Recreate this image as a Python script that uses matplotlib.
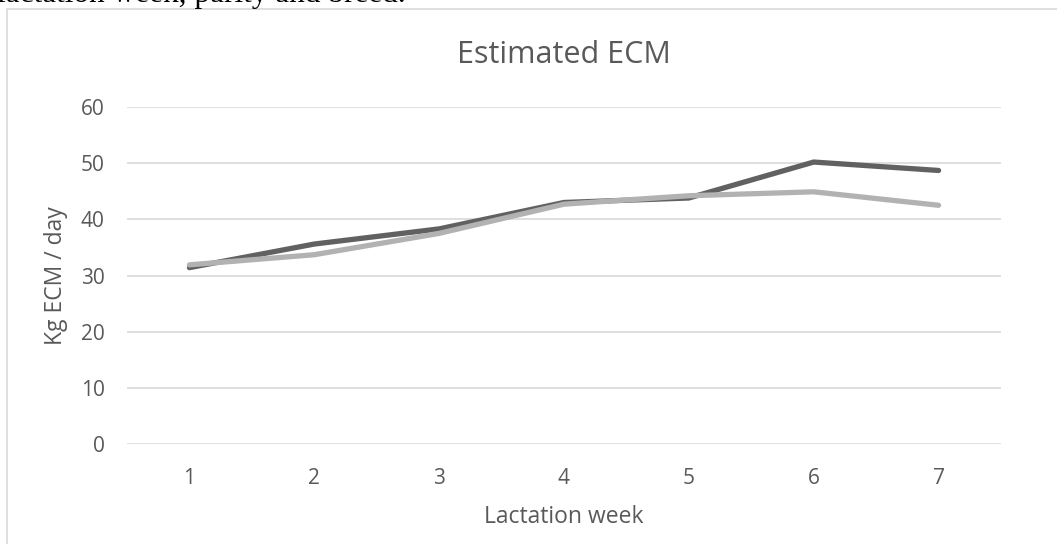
import matplotlib
matplotlib.use('Agg')
import matplotlib.pyplot as plt
from matplotlib.patches import Rectangle

# 数据
weeks = [1, 2, 3, 4, 5, 6, 7]
ecm_dark = [31.4, 35.6, 38.3, 43.0, 43.8, 50.2, 48.7]
ecm_light = [31.9, 33.7, 37.5, 42.7, 44.2, 44.9, 42.5]
y_ticks = [0, 10, 20, 30, 40, 50, 60]

plt.rcParams['font.family'] = ['Open Sans', 'DejaVu Sans']

W, H = 1057, 544
fig = plt.figure(figsize=(W / 100, H / 100), dpi=100)

# 被截掉的正文一行
fig.text(-3 / W, 1 - 2 / H, 'lactation week, parity and breed.', family='Liberation Serif',
         fontsize=22.5, va='baseline', ha='left', color='black')

# 图表区边框
fig.patches.append(Rectangle((7 / W, -0.1), 1.2, 1 - 9 / H + 0.1, transform=fig.transFigure,
                             fill=False, edgecolor='#D9D9D9', linewidth=1.2))

ax = fig.add_axes([127 / W, 1 - 444 / H, (1001 - 127) / W, (444 - 107) / H])
ax.plot(weeks, ecm_dark, color='#616161', linewidth=3.8, solid_capstyle='round', zorder=3)
ax.plot(weeks, ecm_light, color='#B2B2B2', linewidth=3.8, solid_capstyle='round', zorder=4)

ax.set_xlim(0.5, 7.5)
ax.set_ylim(0, 60)
ax.set_yticks(y_ticks)
ax.set_xticks(weeks)
ax.grid(axis='y', color='#D9D9D9', linewidth=1.2)
ax.set_axisbelow(True)
for s in ax.spines.values():
    s.set_visible(False)
ax.tick_params(length=0, labelsize=15, labelcolor='#595959')
ax.tick_params(axis='y', pad=16)
ax.tick_params(axis='x', pad=17)

ax.set_title('Estimated ECM', fontsize=22, color='#595959', pad=32)
ax.set_xlabel('Lactation week', fontsize=16.5, color='#595959', labelpad=12)
ax.set_ylabel('Kg ECM / day', fontsize=16.5, color='#595959', labelpad=9)

plt.savefig('out.png', dpi=100)
